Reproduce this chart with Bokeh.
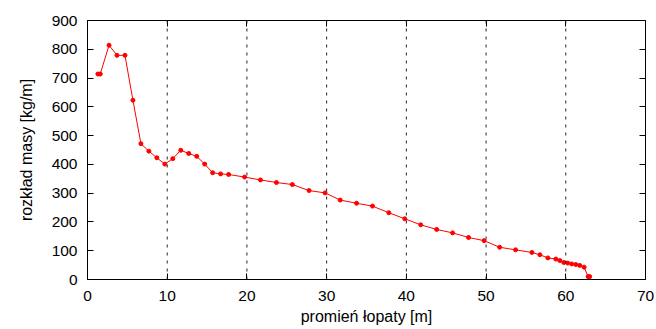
from bokeh.plotting import figure
from bokeh.models import LinearAxis, FixedTicker, Span, Range1d
from bokeh.embed import file_html
from bokeh.resources import INLINE

radius = [1.3, 1.6, 2.7, 3.7, 4.7, 5.7, 6.7, 7.7, 8.7, 9.7, 10.7, 11.7, 12.7,
          13.7, 14.7, 15.7, 16.7, 17.7, 19.7, 21.7, 23.7, 25.7, 27.8, 29.8,
          31.7, 33.75, 35.75, 37.8, 39.8, 41.8, 43.8, 45.8, 47.8, 49.75,
          51.7, 53.7, 55.75, 56.75, 57.75, 58.75, 59.25, 59.75, 60.25, 60.75,
          61.25, 61.75, 62.3, 62.8, 63.0]
mass = [714, 714, 814, 779, 779, 623, 472, 446, 423, 401, 420, 449, 438,
        428, 401, 371, 367, 365, 356, 346, 337, 330, 309, 301,
        276, 265, 255, 232, 211, 190, 174, 162, 146, 135,
        112, 103, 94, 86, 75, 71, 66, 59, 57, 54,
        52, 49, 43, 10, 10]

x_ticks = [0, 10, 20, 30, 40, 50, 60, 70]
y_ticks = [0, 100, 200, 300, 400, 500, 600, 700, 800, 900]
grid_x = [10, 20, 30, 40, 50, 60]

FONT = "Liberation Sans"

p = figure(width=656, height=329, output_backend="svg", toolbar_location=None,
           x_range=Range1d(0, 70), y_range=Range1d(0, 900),
           min_border_left=87, min_border_right=11, min_border_top=20,
           min_border_bottom=50)
p.xgrid.visible = False
p.ygrid.visible = False
p.outline_line_color = "black"
p.outline_line_width = 1
p.background_fill_color = "white"
p.border_fill_color = "white"

for g in grid_x:
    p.add_layout(Span(location=g, dimension="height", line_color="#222222",
                      line_dash="3 5", line_width=1))

p.line(radius, mass, line_color="red", line_width=1)
p.scatter(radius, mass, size=4, color="red")

def style(ax, labels=True):
    ax.axis_line_color = None
    ax.major_tick_in = 6
    ax.major_tick_out = 0
    ax.minor_tick_line_color = None
    ax.major_tick_line_color = "black"
    if labels:
        ax.major_label_text_font = FONT
        ax.major_label_text_font_size = "15.5px"
        ax.major_label_text_color = "black"
        ax.axis_label_text_font = FONT
        ax.axis_label_text_font_size = "16px"
        ax.axis_label_text_font_style = "normal"
        ax.axis_label_text_color = "black"
    else:
        ax.major_label_text_font_size = "0px"

xa = p.xaxis[0]
xa.ticker = FixedTicker(ticks=x_ticks)
xa.axis_label = "promień łopaty [m]"
xa.major_label_standoff = 11
xa.axis_label_standoff = 4
style(xa)

ya = p.yaxis[0]
ya.ticker = FixedTicker(ticks=y_ticks)
ya.axis_label = "rozkład masy [kg/m]"
ya.major_label_standoff = 10
ya.axis_label_standoff = 14
style(ya)

ra = LinearAxis(ticker=FixedTicker(ticks=y_ticks))
style(ra, labels=False)
p.add_layout(ra, "right")
ta = LinearAxis(ticker=FixedTicker(ticks=x_ticks))
style(ta, labels=False)
p.add_layout(ta, "above")

p.min_border_right = 11
p.min_border_top = 20

open("out.html", "w").write(file_html(p, INLINE))
